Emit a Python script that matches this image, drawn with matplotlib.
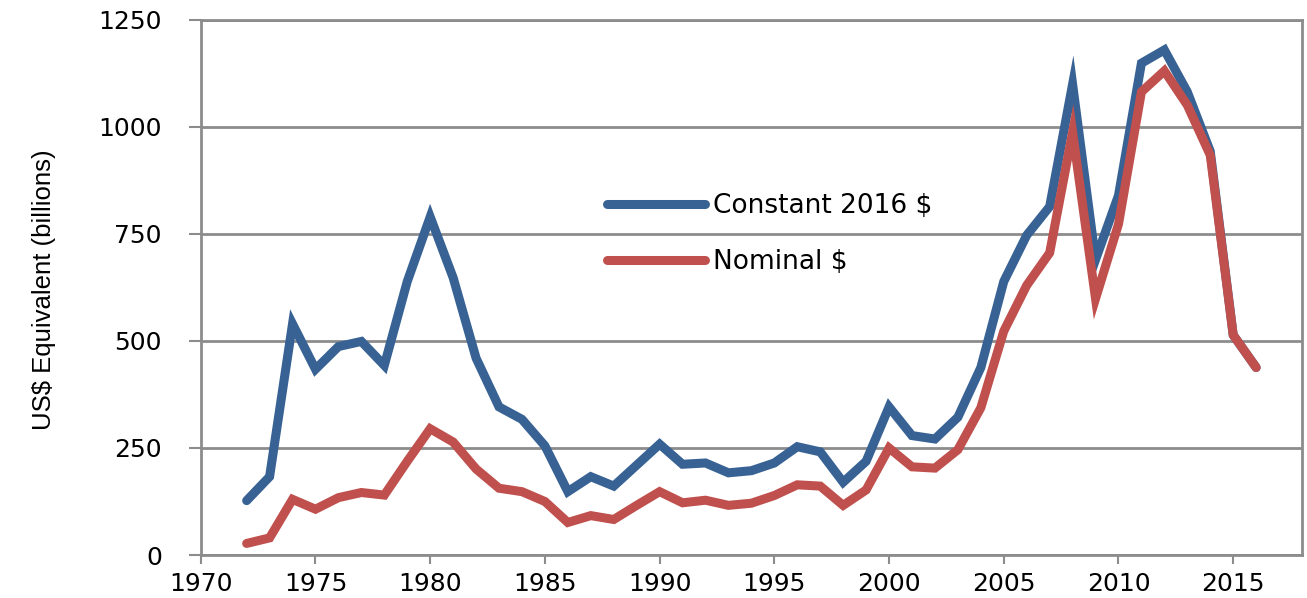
import matplotlib
matplotlib.use("Agg")
import matplotlib.pyplot as plt

# ---- data ----
years = list(range(1972, 2017))
constant_2016 = [127, 183, 540, 434, 487, 499, 443, 639, 790, 648,
                 460, 346, 317, 255, 148, 183, 161, 210, 259, 212,
                 215, 192, 197, 215, 253, 241, 170, 219, 346, 279,
                 271, 322, 438, 639, 747, 814, 1100, 690, 840, 1149,
                 1180, 1082, 943, 514, 438]
nominal = [27, 40, 130, 107, 134, 146, 140, 219, 295, 264,
           201, 156, 148, 125, 76, 92, 83, 116, 148, 122,
           128, 116, 121, 139, 164, 161, 116, 152, 250, 206,
           203, 246, 344, 523, 630, 706, 988, 599, 773, 1082,
           1131, 1051, 934, 514, 438]
x_ticks = list(range(1970, 2016, 5))
y_ticks = [0, 250, 500, 750, 1000, 1250]

BLUE = "#386294"
RED = "#C0504D"
GRID = "#8C8C8C"

fig = plt.figure(figsize=(13.07, 5.98), dpi=100)
ax = fig.add_axes([0.1536, 0.0719, 0.8426, 0.8947])

ax.plot(years, constant_2016, color=BLUE, lw=6.5, solid_joinstyle="miter",
        solid_capstyle="round", label="Constant 2016 $", zorder=3)
ax.plot(years, nominal, color=RED, lw=6.5, solid_joinstyle="miter",
        solid_capstyle="round", label="Nominal $", zorder=4)

ax.set_xlim(1970, 2018)
ax.set_ylim(0, 1250)
ax.set_xticks(x_ticks)
ax.set_yticks(y_ticks)
ax.grid(axis="y", color=GRID, lw=2)
ax.set_axisbelow(True)
for sp in ax.spines.values():
    sp.set_color(GRID)
    sp.set_linewidth(2)

ax.tick_params(axis="y", length=9, width=1.5, color=GRID, pad=19,
               labelsize=18)
ax.tick_params(axis="x", length=6.5, width=1.5, color=GRID, pad=6,
               labelsize=18)
for lab in ax.get_xticklabels() + ax.get_yticklabels():
    lab.set_family("DejaVu Sans")

ylab = ax.set_ylabel("US$ Equivalent (billions)",
                     family=["Liberation Sans Narrow", "Liberation Sans"],
                     fontsize=18.5, va="center")
ax.yaxis.set_label_coords(-0.142, 0.495)

leg = ax.legend(loc="upper left", bbox_to_anchor=(0.369, 0.677),
                frameon=False, fontsize=19, handlelength=3.7,
                handletextpad=0.3, labelspacing=1.15, borderpad=0,
                borderaxespad=0)
for t in leg.get_texts():
    t.set_family("DejaVu Sans")

fig.savefig("out.png", dpi=100)
